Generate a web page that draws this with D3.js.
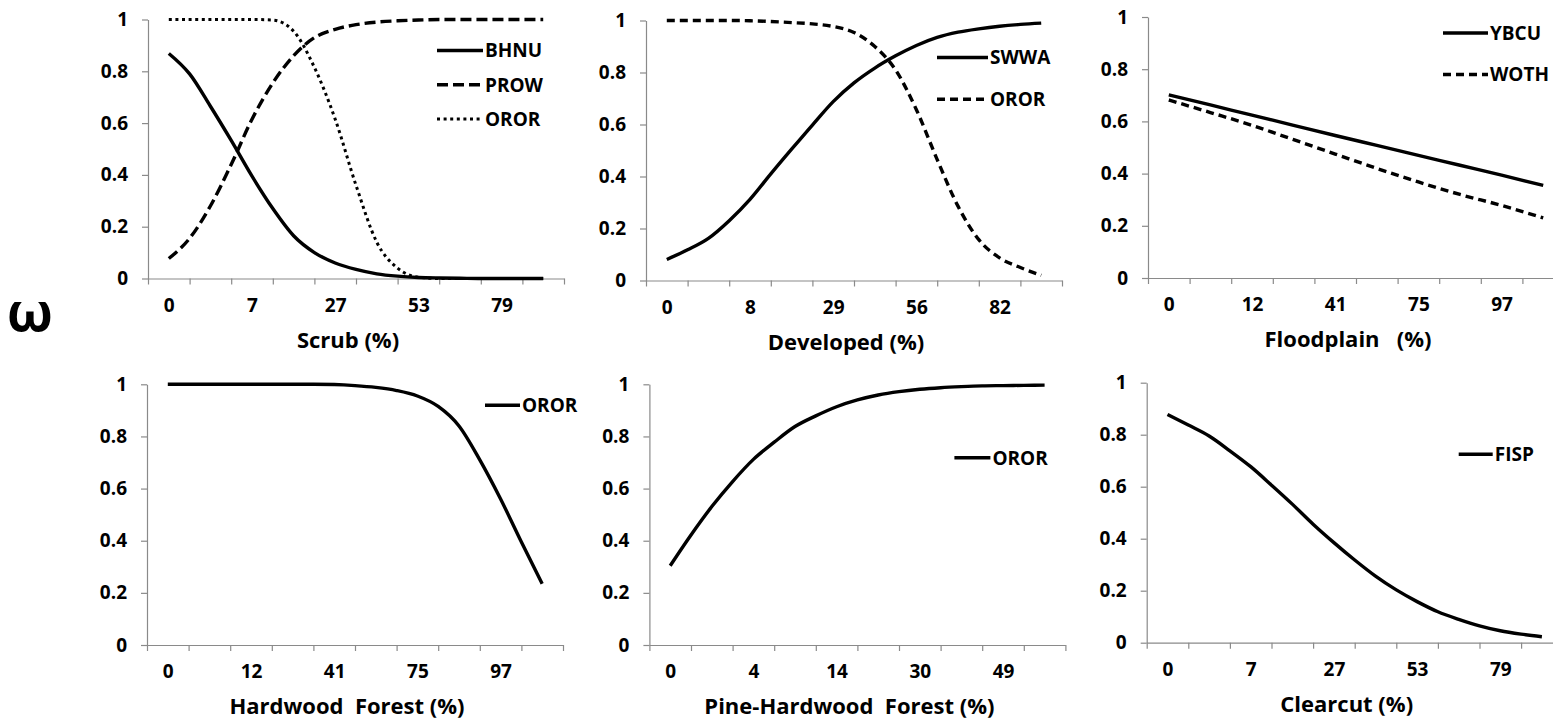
<!DOCTYPE html>
<html>
<head>
<meta charset="utf-8">
<script src="https://cdn.jsdelivr.net/npm/d3@7"></script>
<style>
  body { margin: 0; background: #fff; }
  text { font-family: "Open Sans", Lato, sans-serif; font-weight: 700; fill: #000; }
</style>
</head>
<body>
<div id="chart"></div>
<script>
// x labels, shown on every other category
const scrubLabels = ["0", "7", "27", "53", "79"];
const developedLabels = ["0", "8", "29", "56", "82"];
const floodplainLabels = ["0", "12", "41", "75", "97"];
const hardwoodLabels = ["0", "12", "41", "75", "97"];
const pineLabels = ["0", "4", "14", "30", "49"];
const clearcutLabels = ["0", "7", "27", "53", "79"];

// readings evenly spaced from the first to the last category
const scrubBHNU = [0.869, 0.79, 0.665, 0.533, 0.395, 0.27, 0.165, 0.1, 0.06, 0.035, 0.018, 0.009, 0.004, 0.002, 0.001, 0, 0, 0, 0];
const scrubPROW = [0.077, 0.155, 0.28, 0.44, 0.615, 0.755, 0.86, 0.93, 0.962, 0.98, 0.99, 0.995, 0.998, 1, 1, 1, 1, 1, 1];
const scrubOROR = [1, 1, 1, 1, 1, 0.998, 0.955, 0.815, 0.615, 0.36, 0.14, 0.04, 0.005, 0, 0, 0, 0, 0, 0];

const developedSWWA = [0.081, 0.118, 0.162, 0.23, 0.312, 0.41, 0.505, 0.598, 0.688, 0.76, 0.817, 0.864, 0.904, 0.935, 0.955, 0.968, 0.978, 0.985, 0.99];
const developedOROR = [1, 1, 1, 1, 0.999, 0.996, 0.992, 0.987, 0.977, 0.954, 0.9, 0.81, 0.657, 0.465, 0.286, 0.157, 0.087, 0.05, 0.02];

const floodYBCU = [0.702, 0.663, 0.624, 0.585, 0.546, 0.508, 0.47, 0.432, 0.394, 0.355];
const floodWOTH = [0.682, 0.634, 0.585, 0.53, 0.475, 0.42, 0.368, 0.32, 0.278, 0.23];

const hardwoodOROR = [1, 1, 1, 1, 1, 1, 1, 1, 0.999, 0.995, 0.988, 0.976, 0.955, 0.915, 0.84, 0.71, 0.56, 0.395, 0.235];
const pineOROR = [0.304, 0.422, 0.531, 0.627, 0.712, 0.778, 0.838, 0.879, 0.914, 0.94, 0.959, 0.972, 0.981, 0.987, 0.991, 0.994, 0.995, 0.996, 0.997];
const clearcutFISP = [0.878, 0.837, 0.795, 0.738, 0.677, 0.606, 0.533, 0.456, 0.385, 0.318, 0.256, 0.203, 0.158, 0.119, 0.09, 0.065, 0.046, 0.033, 0.023];

const yTicks = [0, 0.2, 0.4, 0.6, 0.8, 1];

const W = 1553, H = 722;
const catW = 41.6;      // width of one category
const nCat = 10;
const axisColor = "#8a8a8a";

const SOLID = null, DASH = "11,5", SHORTDASH = "8,5", DOT = "3,3.6";

const panels = [
  { x0: 148, top: 19.5, bottom: 278.5, title: "Scrub (%)", labels: scrubLabels,
    series: [{ name: "BHNU", values: scrubBHNU, dash: SOLID },
             { name: "PROW", values: scrubPROW, dash: DASH },
             { name: "OROR", values: scrubOROR, dash: DOT }],
    legend: { dx: 289, dy: 31, len: 46, gap: 34.3 } },
  { x0: 646, top: 20.5, bottom: 280.5, title: "Developed (%)", labels: developedLabels,
    series: [{ name: "SWWA", values: developedSWWA, dash: SOLID },
             { name: "OROR", values: developedOROR, dash: SHORTDASH }],
    legend: { dx: 291, dy: 37, len: 51, gap: 41.7 } },
  { x0: 1148, top: 17, bottom: 278, title: "Floodplain   (%)", labels: floodplainLabels,
    series: [{ name: "YBCU", values: floodYBCU, dash: SOLID },
             { name: "WOTH", values: floodWOTH, dash: SHORTDASH }],
    legend: { dx: 295, dy: 16, len: 45, gap: 41.5 } },
  { x0: 147, top: 384.3, bottom: 645, title: "Hardwood  Forest (%)", labels: hardwoodLabels,
    series: [{ name: "OROR", values: hardwoodOROR, dash: SOLID }],
    legend: { dx: 338, dy: 21, len: 35, gap: 0 } },
  { x0: 649.4, top: 384.3, bottom: 645, title: "Pine-Hardwood  Forest (%)", labels: pineLabels,
    series: [{ name: "OROR", values: pineOROR, dash: SOLID }],
    legend: { dx: 305, dy: 73.4, len: 36, gap: 0 } },
  { x0: 1146.7, top: 382.7, bottom: 642.7, title: "Clearcut (%)", labels: clearcutLabels,
    series: [{ name: "FISP", values: clearcutFISP, dash: SOLID }],
    legend: { dx: 312, dy: 71.6, len: 34, gap: 0 } }
];

const svg = d3.select("#chart").append("svg")
  .attr("width", W)
  .attr("height", H);

// y axis symbol
svg.append("text")
  .attr("x", 30)
  .attr("y", 331)
  .attr("text-anchor", "middle")
  .style("font-family", "'Noto Sans', 'DejaVu Sans', sans-serif")
  .style("font-size", "54px")
  .text("ω");

panels.forEach(function(p) {
  const h = p.bottom - p.top;
  const g = svg.append("g").attr("transform", "translate(" + p.x0 + "," + p.top + ")");

  // categories: centres at 0..9, boundaries at -0.5..9.5
  const x = d3.scaleLinear().domain([-0.5, nCat - 0.5]).range([0, catW * nCat]);
  const y = d3.scaleLinear().domain([0, 1]).range([h, 0]);

  // y axis
  const yAxis = g.append("g")
    .call(d3.axisLeft(y).tickValues(yTicks).tickSize(6).tickSizeOuter(0).tickPadding(14)
      .tickFormat(d3.format("~g")));
  yAxis.selectAll("text").style("font-size", "19px");

  // x axis with ticks between categories
  const xAxis = g.append("g")
    .attr("transform", "translate(0," + h + ")")
    .call(d3.axisBottom(x).tickValues(d3.range(-0.5, nCat, 1)).tickSize(6).tickSizeOuter(0).tickFormat(""));

  // labels on every other category
  const xLab = g.append("g")
    .attr("transform", "translate(0," + h + ")")
    .call(d3.axisBottom(x).tickValues(p.labels.map((d, i) => i * 2)).tickSize(0).tickPadding(20)
      .tickFormat((d, i) => p.labels[i]));
  xLab.select(".domain").remove();
  xLab.selectAll("text").style("font-size", "19px");

  [yAxis, xAxis].forEach(function(a) {
    a.select(".domain").attr("stroke", axisColor).attr("stroke-width", 1.2);
    a.selectAll(".tick line").attr("stroke", axisColor).attr("stroke-width", 1.2);
  });

  // axis title
  g.append("text")
    .attr("x", 200)
    .attr("y", h + 69)
    .attr("text-anchor", "middle")
    .style("font-size", "22px")
    .style("white-space", "pre")
    .text(p.title);

  // curves
  p.series.forEach(function(s, k) {
    const step = (nCat - 1) / (s.values.length - 1);
    const line = d3.line()
      .x((d, i) => x(i * step))
      .y(d => y(d))
      .curve(d3.curveMonotoneX);

    g.append("path")
      .datum(s.values)
      .attr("fill", "none")
      .attr("stroke", "#000")
      .attr("stroke-width", s.dash === DOT ? 3 : 3.4)
      .attr("stroke-dasharray", s.dash)
      .attr("d", line);

    // legend
    const ly = p.legend.dy + k * p.legend.gap;
    g.append("line")
      .attr("x1", p.legend.dx)
      .attr("x2", p.legend.dx + p.legend.len)
      .attr("y1", ly)
      .attr("y2", ly)
      .attr("stroke", "#000")
      .attr("stroke-width", s.dash === DOT ? 3 : 3.4)
      .attr("stroke-dasharray", s.dash);
    g.append("text")
      .attr("x", p.legend.dx + p.legend.len + 2)
      .attr("y", ly)
      .attr("dy", "0.36em")
      .style("font-size", "19px")
      .text(s.name);
  });
});
</script>
</body>
</html>
